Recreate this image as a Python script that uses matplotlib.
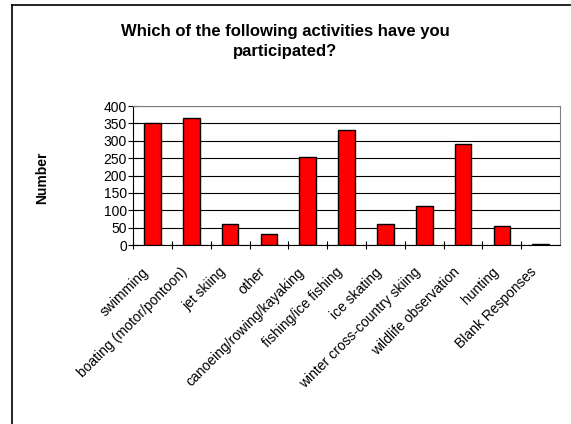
import matplotlib.pyplot as plt
import matplotlib.transforms as mtransforms
from matplotlib.lines import Line2D
import numpy as np

plt.rcParams['font.family'] = ['Liberation Sans', 'DejaVu Sans']

# survey answers
activities = ["swimming", "boating (motor/pontoon)", "jet skiing", "other",
              "canoeing/rowing/kayaking", "fishing/ice fishing", "ice skating",
              "winter cross-country skiing", "wildlife observation", "hunting",
              "Blank Responses"]
counts = [350, 366, 60, 31, 253, 330, 62, 112, 290, 56, 3]
yticks = [0, 50, 100, 150, 200, 250, 300, 350, 400]

fig = plt.figure(figsize=(5.71, 4.24), dpi=100)
ax = fig.add_axes([0.233, 0.422, 0.748, 0.328])

x = np.arange(len(activities))
ax.bar(x, counts, width=0.43, color="#ff0000", edgecolor="black", linewidth=1.0, zorder=3)

ax.set_xlim(-0.5, len(activities) - 0.5)
ax.set_ylim(0, 400)
ax.set_yticks(yticks)
ax.tick_params(axis="y", labelsize=10, length=7, width=0.8, direction="inout", pad=1)
ax.yaxis.grid(True, color="black", linewidth=0.8, zorder=0)

# category ticks sit between bars, labels under each bar
ax.set_xticks(x - 0.5, minor=False)
ax.set_xticklabels([])
ax.tick_params(axis="x", length=6, width=0.8, direction="inout")
ax.set_xticks(x, minor=True)
ax.set_xticklabels(activities, minor=True, rotation=45, ha="right", va="center",
                   rotation_mode="anchor", fontsize=10)
ax.tick_params(axis="x", which="minor", length=0, pad=18)
shift = mtransforms.ScaledTranslation(-6 / 100, 0, fig.dpi_scale_trans)
for lbl in ax.get_xticklabels(minor=True):
    lbl.set_transform(lbl.get_transform() + shift)

for side in ["top", "right"]:
    ax.spines[side].set_color("#808080")
for side in ["left", "bottom"]:
    ax.spines[side].set_color("black")

fig.text(0.5, 0.902, "Which of the following activities have you\nparticipated?",
         ha="center", va="center", fontsize=12, fontweight="bold", linespacing=1.45)
fig.text(0.074, 0.58, "Number", rotation=90, ha="center", va="center",
         fontsize=10, fontweight="bold")

# chart area border (only left and top visible in the crop)
fig.add_artist(Line2D([0.021, 0.021], [0, 0.988], transform=fig.transFigure, color="black", lw=1.2))
fig.add_artist(Line2D([0.021, 1], [0.988, 0.988], transform=fig.transFigure, color="black", lw=1.2))

fig.savefig("out.png", dpi=100)
